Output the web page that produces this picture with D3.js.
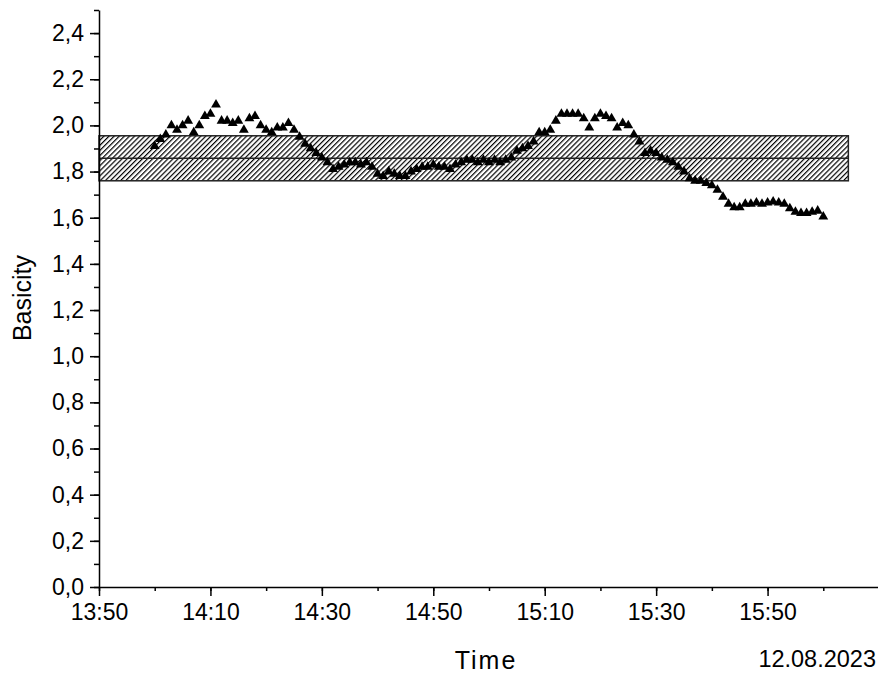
<!DOCTYPE html>
<html>

<head>
    <meta charset="utf-8" />
    <title>Basicity</title>
    <script src="https://d3js.org/d3.v7.min.js"></script>
    <style>
        body { margin: 0; background: #fff; }
        svg text { font-family: "Liberation Sans", Arial, sans-serif; fill: #000; }
    </style>
</head>

<body>
    <script type="text/javascript">
        // one sample per minute, 14:00 - 16:00
        var times = [
            '14:00', '14:01', '14:02', '14:03', '14:04', '14:05', '14:06', '14:07', '14:08', '14:09',
            '14:10', '14:11', '14:12', '14:13', '14:14', '14:15', '14:16', '14:17', '14:18', '14:19',
            '14:20', '14:21', '14:22', '14:23', '14:24', '14:25', '14:26', '14:27', '14:28', '14:29',
            '14:30', '14:31', '14:32', '14:33', '14:34', '14:35', '14:36', '14:37', '14:38', '14:39',
            '14:40', '14:41', '14:42', '14:43', '14:44', '14:45', '14:46', '14:47', '14:48', '14:49',
            '14:50', '14:51', '14:52', '14:53', '14:54', '14:55', '14:56', '14:57', '14:58', '14:59',
            '15:00', '15:01', '15:02', '15:03', '15:04', '15:05', '15:06', '15:07', '15:08', '15:09',
            '15:10', '15:11', '15:12', '15:13', '15:14', '15:15', '15:16', '15:17', '15:18', '15:19',
            '15:20', '15:21', '15:22', '15:23', '15:24', '15:25', '15:26', '15:27', '15:28', '15:29',
            '15:30', '15:31', '15:32', '15:33', '15:34', '15:35', '15:36', '15:37', '15:38', '15:39',
            '15:40', '15:41', '15:42', '15:43', '15:44', '15:45', '15:46', '15:47', '15:48', '15:49',
            '15:50', '15:51', '15:52', '15:53', '15:54', '15:55', '15:56', '15:57', '15:58', '15:59',
            '16:00'
        ];
        var basicity = [
            1.91, 1.94, 1.96, 2.00, 1.98, 2.00, 2.02, 1.97, 2.00, 2.04,
            2.05, 2.09, 2.02, 2.02, 2.01, 2.02, 1.98, 2.03, 2.04, 2.00,
            1.98, 1.97, 1.99, 1.99, 2.01, 1.98, 1.95, 1.92, 1.90, 1.88,
            1.86, 1.84, 1.81, 1.82, 1.83, 1.84, 1.84, 1.83, 1.84, 1.82,
            1.79, 1.78, 1.80, 1.79, 1.78, 1.78, 1.80, 1.81, 1.82, 1.82,
            1.83, 1.82, 1.82, 1.81, 1.83, 1.84, 1.85, 1.85, 1.84, 1.85,
            1.84, 1.85, 1.84, 1.85, 1.86, 1.89, 1.90, 1.91, 1.93, 1.97,
            1.97, 1.98, 2.02, 2.05, 2.05, 2.05, 2.05, 2.03, 1.99, 2.03,
            2.05, 2.04, 2.03, 1.99, 2.01, 2.00, 1.96, 1.93, 1.88, 1.89,
            1.88, 1.86, 1.85, 1.84, 1.82, 1.80, 1.77, 1.76, 1.76, 1.75,
            1.74, 1.72, 1.69, 1.66, 1.645, 1.645, 1.66, 1.66, 1.665, 1.66,
            1.665, 1.67, 1.665, 1.66, 1.64, 1.625, 1.62, 1.62, 1.625, 1.63,
            1.605
        ];

        // target band: lower limit, mean, upper limit
        var bandTimes = ['13:50:00', '16:04:30'];
        var bandLimits = [1.76, 1.858, 1.955];

        var xDomain = ['13:50', '16:10'];
        var xTicks = ['13:50', '14:10', '14:30', '14:50', '15:10', '15:30', '15:50'];
        var yTicks = [0, 0.2, 0.4, 0.6, 0.8, 1.0, 1.2, 1.4, 1.6, 1.8, 2.0, 2.2, 2.4];
        var dateLabel = '12.08.2023';

        var parseTime = function (s) {
            return d3.timeParse(s.length > 5 ? '%H:%M:%S' : '%H:%M')(s);
        };

        var width = 878;
        var height = 673;

        var svg = d3.select('body')
            .append('svg')
            .attr('width', width)
            .attr('height', height);

        var x = d3.scaleTime()
            .domain(xDomain.map(parseTime))
            .range([99, 879]);

        var y = d3.scaleLinear()
            .domain([0, 2.5])
            .range([587, 10]);

        // hatch pattern
        svg.append('defs')
            .append('pattern')
            .attr('id', 'hatch')
            .attr('patternUnits', 'userSpaceOnUse')
            .attr('width', 3.6)
            .attr('height', 10)
            .attr('patternTransform', 'rotate(45)')
            .append('line')
            .attr('x1', 0.6).attr('y1', 0)
            .attr('x2', 0.6).attr('y2', 10)
            .attr('stroke', '#000')
            .attr('stroke-width', 1.2);

        var bx0 = x(parseTime(bandTimes[0]));
        var bx1 = x(parseTime(bandTimes[1]));

        svg.append('rect')
            .attr('x', bx0)
            .attr('y', y(bandLimits[2]))
            .attr('width', bx1 - bx0)
            .attr('height', y(bandLimits[0]) - y(bandLimits[2]))
            .attr('fill', 'url(#hatch)')
            .attr('stroke', '#222')
            .attr('stroke-width', 1.5);

        svg.append('line')
            .attr('x1', bx0).attr('x2', bx1)
            .attr('y1', y(bandLimits[1])).attr('y2', y(bandLimits[1]))
            .attr('stroke', '#222')
            .attr('stroke-width', 1.5);

        // data points
        var points = times.map(function (t, i) {
            return { t: parseTime(t), v: basicity[i] };
        });

        svg.append('g')
            .selectAll('path')
            .data(points)
            .enter()
            .append('path')
            .attr('transform', function (d) {
                return 'translate(' + x(d.t) + ',' + y(d.v) + ')';
            })
            .attr('d', d3.symbol().type(d3.symbolTriangle).size(42))
            .attr('fill', '#000');

        // axes
        var fmtY = function (d) { return d3.format('.1f')(d).replace('.', ','); };

        var xMinor = svg.append('g')
            .attr('transform', 'translate(0,587)')
            .call(d3.axisBottom(x)
                .ticks(d3.timeMinute.every(10))
                .tickSize(4)
                .tickFormat(''));
        xMinor.select('.domain').remove();

        var xAxis = svg.append('g')
            .attr('transform', 'translate(0,587)')
            .call(d3.axisBottom(x)
                .tickValues(xTicks.map(parseTime))
                .tickSize(9)
                .tickSizeOuter(0)
                .tickPadding(8)
                .tickFormat(d3.timeFormat('%H:%M')));

        var yMinor = svg.append('g')
            .attr('transform', 'translate(99,0)')
            .call(d3.axisLeft(y)
                .ticks(25)
                .tickSize(5)
                .tickFormat(''));
        yMinor.select('.domain').remove();

        var yAxis = svg.append('g')
            .attr('transform', 'translate(99,0)')
            .call(d3.axisLeft(y)
                .tickValues(yTicks)
                .tickSize(9)
                .tickSizeOuter(0)
                .tickPadding(6)
                .tickFormat(fmtY));

        svg.selectAll('.tick line, .domain')
            .attr('stroke', '#000')
            .attr('stroke-width', 1.5);

        svg.selectAll('.tick text')
            .attr('font-size', 23)
            .attr('font-family', '"Liberation Sans", Arial, sans-serif');

        // labels
        svg.append('text')
            .attr('transform', 'translate(31,298) rotate(-90)')
            .attr('text-anchor', 'middle')
            .attr('font-size', 25)
            .text('Basicity');

        svg.append('text')
            .attr('x', 486)
            .attr('y', 669)
            .attr('text-anchor', 'middle')
            .attr('font-size', 25)
            .attr('letter-spacing', 2)
            .text('Time');

        svg.append('text')
            .attr('x', 876)
            .attr('y', 667)
            .attr('text-anchor', 'end')
            .attr('font-size', 23.5)
            .text(dateLabel);
    </script>

</body>

</html>
